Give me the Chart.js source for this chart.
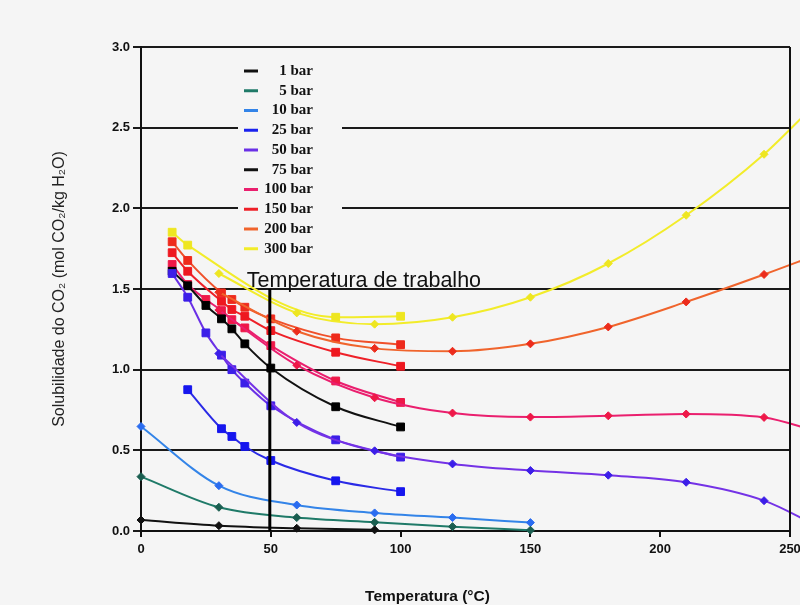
<!DOCTYPE html>
<html>
<head>
<meta charset="utf-8">
<script src="https://cdn.jsdelivr.net/npm/chart.js@4.4.1/dist/chart.umd.min.js"></script>
<style>
  html, body { margin: 0; padding: 0; background: #f5f5f5; }
  canvas { display: block; }
</style>
</head>
<body>
<canvas id="solubChart" width="800" height="605"></canvas>
<script>
// 温度 (°C)
const tModel = [0, 30, 60, 90, 120, 150, 180, 210, 240, 260];
const tExp = [12, 18, 25, 31, 35, 40, 50, 75, 100];

// 模型曲线 (菱形)
const model1 = [0.068, 0.033, 0.017, 0.007];
const model5 = [0.337, 0.147, 0.083, 0.054, 0.027, 0.005];
const model10 = [0.648, 0.281, 0.161, 0.112, 0.083, 0.052];
const model50 = [null, 1.10, 0.673, 0.497, 0.416, 0.375, 0.346, 0.302, 0.188, 0.035];
const model100 = [null, 1.37, 1.028, 0.826, 0.731, 0.706, 0.714, 0.725, 0.704, 0.62];
const model200 = [null, 1.48, 1.238, 1.132, 1.114, 1.16, 1.265, 1.42, 1.59, 1.71];
const model300 = [null, 1.596, 1.352, 1.282, 1.325, 1.449, 1.658, 1.957, 2.335, 2.65];

// 实验数据 (方块)
const exp25 = [null, 0.876, null, 0.634, 0.586, 0.524, 0.437, 0.311, 0.244];
const exp50 = [1.596, 1.449, 1.228, 1.09, 1.0, 0.917, 0.776, 0.565, 0.458];
const exp75 = [1.61, 1.52, 1.398, 1.315, 1.253, 1.16, 1.01, 0.77, 0.645];
const exp100 = [1.652, 1.528, 1.435, 1.366, 1.31, 1.259, 1.149, 0.93, 0.797];
const exp150 = [1.725, 1.61, null, 1.424, 1.373, 1.331, 1.242, 1.108, 1.021];
const exp200 = [1.793, 1.677, null, 1.476, 1.435, 1.387, 1.315, 1.197, 1.155];
const exp300 = [1.852, 1.772, null, null, null, null, null, 1.325, 1.331];

const legendLabels = ['1 bar', '5 bar', '10 bar', '25 bar', '50 bar', '75 bar', '100 bar', '150 bar', '200 bar', '300 bar'];
const legendColors = ['#111111', '#1f7a68', '#3384e8', '#1a22ee', '#6a30e6', '#111111', '#ea1f6e', '#ee2028', '#f0642c', '#f2ec2a'];

const workTemp = 50;
const workFrom = 1.5;
const bgColor = '#f5f5f5';

function pts(ts, vs) {
    return vs.map((v, i) => ({ x: ts[i], y: v })).filter(p => p.y !== null);
}

function series(ts, vs, line, point, style) {
    return {
        data: pts(ts, vs),
        borderColor: line,
        backgroundColor: point,
        pointBackgroundColor: point,
        pointBorderColor: point,
        pointStyle: style,
        pointRadius: ctx => (ctx.raw && ctx.raw.x > 250) ? 0 : (style === 'rect' ? 5.5 : 4),
        pointBorderWidth: 1,
        borderWidth: 2,
        cubicInterpolationMode: 'monotone',
        clip: false,
        fill: false
    };
}

const datasets = [
    series(tModel, model1, '#111111', '#111111', 'rectRot'),
    series(tModel, model5, '#1f7a68', '#1a5e50', 'rectRot'),
    series(tModel, model10, '#3384e8', '#2a6cf0', 'rectRot'),
    series(tExp, exp25, '#2a2ae6', '#1616ee', 'rect'),
    series(tModel, model50, '#7432e6', '#3c1ee8', 'rectRot'),
    series(tExp, exp50, '#6a30e6', '#3c1ee8', 'rect'),
    series(tExp, exp75, '#111111', '#000000', 'rect'),
    series(tModel, model100, '#ea1f6e', '#ee1848', 'rectRot'),
    series(tExp, exp100, '#ea1f6e', '#ee1848', 'rect'),
    series(tExp, exp150, '#ee2028', '#ee1820', 'rect'),
    series(tModel, model200, '#f0642c', '#ec2c1c', 'rectRot'),
    series(tExp, exp200, '#f0502a', '#ee2a1c', 'rect'),
    series(tModel, model300, '#f2ec2a', '#eee620', 'rectRot'),
    series(tExp, exp300, '#f2ec2a', '#eee620', 'rect')
];

// 背景、图例、工作温度线
const decor = {
    id: 'decor',
    beforeDraw(chart) {
        const ctx = chart.ctx;
        ctx.save();
        ctx.fillStyle = bgColor;
        ctx.fillRect(0, 0, chart.width, chart.height);
        ctx.restore();
    },
    beforeDatasetsDraw(chart) {
        const ctx = chart.ctx;
        ctx.save();
        ctx.fillStyle = bgColor;
        ctx.fillRect(238, 56, 104, 202);
        ctx.font = 'bold 15px "Liberation Serif", "Times New Roman", serif';
        ctx.textAlign = 'right';
        ctx.textBaseline = 'middle';
        legendLabels.forEach((lab, i) => {
            const y = 71 + i * 19.75;
            ctx.strokeStyle = legendColors[i];
            ctx.lineWidth = 3;
            ctx.beginPath();
            ctx.moveTo(244, y);
            ctx.lineTo(258, y);
            ctx.stroke();
            ctx.fillStyle = '#111';
            ctx.fillText(lab, 313, y);
        });
        ctx.restore();
    },
    afterDraw(chart) {
        const ctx = chart.ctx;
        const x = chart.scales.x;
        const y = chart.scales.y;
        const area = chart.chartArea;
        ctx.save();
        // 右边框
        ctx.strokeStyle = '#111';
        ctx.lineWidth = 2;
        ctx.beginPath();
        ctx.moveTo(area.right, area.top);
        ctx.lineTo(area.right, area.bottom);
        ctx.stroke();
        // 工作温度
        const wx = x.getPixelForValue(workTemp) - 1;
        ctx.lineWidth = 3;
        ctx.strokeStyle = '#000';
        ctx.beginPath();
        ctx.moveTo(wx, y.getPixelForValue(workFrom));
        ctx.lineTo(wx, y.getPixelForValue(0));
        ctx.stroke();
        ctx.fillStyle = '#111';
        ctx.font = '21.5px "Liberation Sans", Arial, sans-serif';
        ctx.textAlign = 'left';
        ctx.textBaseline = 'alphabetic';
        ctx.fillText('Temperatura de trabalho', wx - 23, y.getPixelForValue(workFrom) - 2);
        // x 轴标题
        ctx.font = 'bold 15.5px "Liberation Sans Narrow", "Liberation Sans", Arial, sans-serif';
        ctx.textAlign = 'center';
        ctx.textBaseline = 'middle';
        ctx.fillText('Temperatura (°C)', (area.left + area.right) / 2 - 38, 597);
        ctx.restore();
    }
};

const tickFont = { family: '"Liberation Sans Narrow", "Liberation Sans", Arial, sans-serif', size: 13, weight: 'bold' };

new Chart(document.getElementById('solubChart').getContext('2d'), {
    type: 'line',
    data: { datasets: datasets },
    options: {
        responsive: false,
        animation: false,
        layout: { padding: { top: 47, right: 10, left: 0, bottom: 0 } },
        plugins: {
            legend: { display: false },
            tooltip: { enabled: false }
        },
        scales: {
            x: {
                type: 'linear',
                min: 0,
                max: 250,
                afterFit: s => { s.height = 74; s.paddingRight = 0; s.paddingLeft = 0; },
                ticks: { stepSize: 50, font: tickFont, color: '#111', padding: 5, maxRotation: 0 },
                grid: { drawOnChartArea: false, color: '#111', lineWidth: 2, tickLength: 6 },
                border: { color: '#111', width: 2 }
            },
            y: {
                min: 0,
                max: 3,
                afterFit: s => { s.width = 141; },
                ticks: { stepSize: 0.5, font: tickFont, color: '#111', padding: 3, callback: v => v.toFixed(1) },
                grid: { color: '#1a1a1a', lineWidth: 2, tickLength: 8 },
                border: { color: '#111', width: 2 },
                title: {
                    display: true,
                    text: 'Solubilidade do CO₂ (mol CO₂/kg H₂O)',
                    color: '#222',
                    font: { family: '"Liberation Sans", Arial, sans-serif', size: 16 },
                    padding: { top: 50, bottom: 0 }
                }
            }
        }
    },
    plugins: [decor]
});
</script>
</body>
</html>
